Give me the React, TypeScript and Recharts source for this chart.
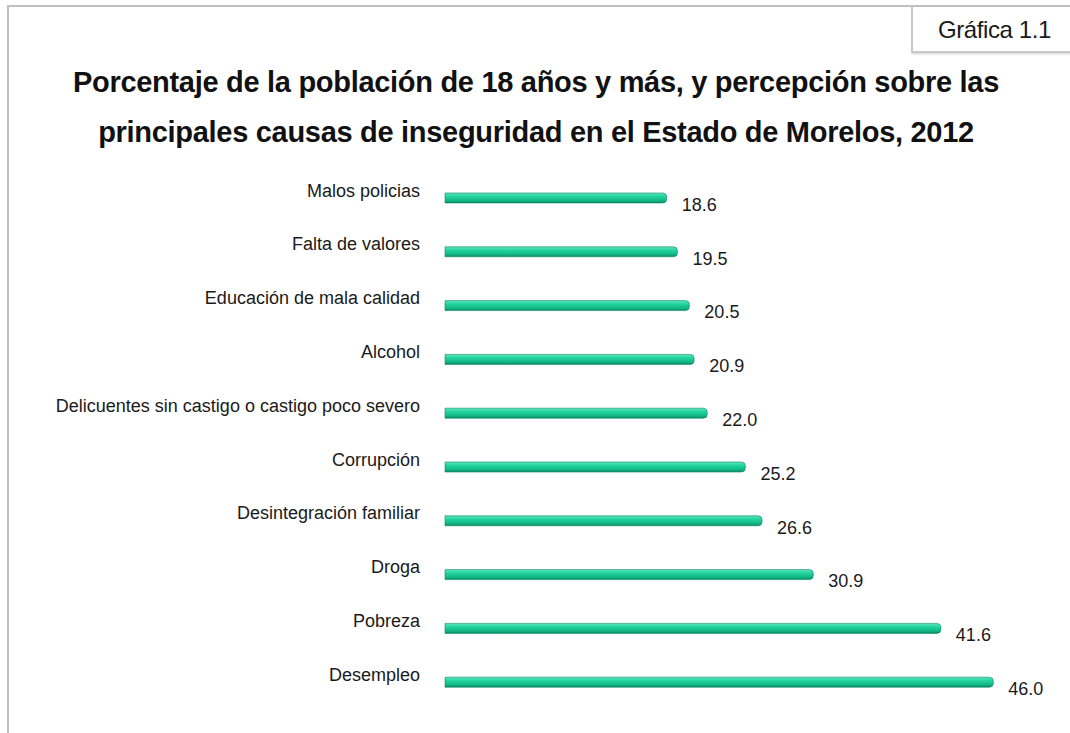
import React from "react"
import { Bar, BarChart, LabelList, XAxis, YAxis } from "recharts"

const causas = [
  "Malos policias",
  "Falta de valores",
  "Educación de mala calidad",
  "Alcohol",
  "Delicuentes sin castigo o castigo poco severo",
  "Corrupción",
  "Desintegración familiar",
  "Droga",
  "Pobreza",
  "Desempleo",
]
const porcentajes = [18.6, 19.5, 20.5, 20.9, 22.0, 25.2, 26.6, 30.9, 41.6, 46.0]

const data = causas.map((causa, i) => ({ causa, valor: porcentajes[i] }))

const font = "'Liberation Sans', Arial, sans-serif"

const CategoryTick = (props: any) => {
  const { y, payload } = props
  return (
    <text x={420} y={y - 6} textAnchor="end" fontFamily={font} fontSize={18} fill="#1a1a1a" dominantBaseline="middle">
      {payload.value}
    </text>
  )
}

const ValueLabel = (props: any) => {
  const { x, y, width, height, value } = props
  return (
    <text x={x + width + 15} y={y + height / 2 + 8} fontFamily={font} fontSize={18} fill="#1a1a1a" dominantBaseline="middle">
      {Number(value).toFixed(1)}
    </text>
  )
}

export default function App() {
  return (
    <div style={{ position: "absolute", left: 0, top: 0, width: 1070, height: 733, background: "#fff", overflow: "hidden" }}>
      <div style={{ position: "absolute", left: 7, top: 5, width: 1200, height: 900, borderLeft: "2px solid #c0c0c0", borderTop: "2px solid #c0c0c0" }} />
      <div
        style={{
          position: "absolute",
          left: 911,
          top: 7,
          width: 200,
          height: 46,
          borderLeft: "2px solid #c8c8c8",
          borderBottom: "2px solid #c8c8c8",
          boxShadow: "1px 1px 2px rgba(0,0,0,0.2)",
          background: "#fff",
          fontFamily: font,
          fontSize: 24,
          letterSpacing: -0.4,
          lineHeight: "46px",
          paddingLeft: 25,
          boxSizing: "border-box",
          color: "#1a1a1a",
        }}
      >
        Gráfica 1.1
      </div>
      <div
        style={{
          position: "absolute",
          left: 0,
          top: 57,
          width: 1072,
          textAlign: "center",
          fontFamily: font,
          fontWeight: "bold",
          fontSize: 29,
          letterSpacing: -0.3,
          lineHeight: "50px",
          color: "#111",
        }}
      >
        Porcentaje de la población de 18 años y más, y percepción sobre las
        <br />
        principales causas de inseguridad en el Estado de Morelos, 2012
      </div>
      <div style={{ position: "absolute", left: 0, top: 0 }}>
        <BarChart width={1070} height={733} data={data} layout="vertical" margin={{ top: 171, right: 29, bottom: 24, left: 0 }}>
          <defs>
            <linearGradient id="barGrad" x1="0" y1="0" x2="0" y2="1">
              <stop offset="0%" stopColor="#5fe6bf" />
              <stop offset="35%" stopColor="#22d39f" />
              <stop offset="75%" stopColor="#12b886" />
              <stop offset="100%" stopColor="#0a8a62" />
            </linearGradient>
          </defs>
          <XAxis type="number" domain={[0, 50]} hide />
          <YAxis type="category" dataKey="causa" width={445} axisLine={false} tickLine={false} tick={<CategoryTick />} interval={0} />
          <Bar dataKey="valor" fill="url(#barGrad)" stroke="#0b8a63" strokeWidth={0.6} barSize={10} radius={[0, 4, 4, 0]} isAnimationActive={false}>
            <LabelList dataKey="valor" content={<ValueLabel />} />
          </Bar>
        </BarChart>
      </div>
    </div>
  )
}
